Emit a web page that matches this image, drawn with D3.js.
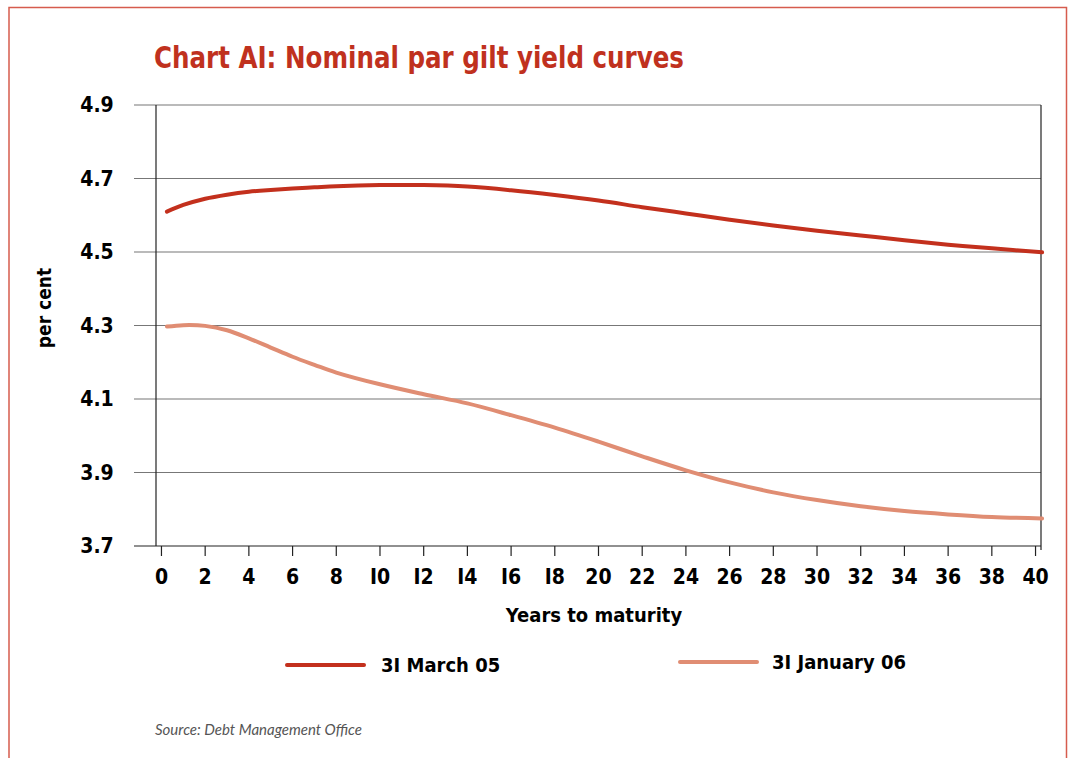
<!DOCTYPE html>
<html>
<head>
<meta charset="utf-8">
<script src="https://cdn.jsdelivr.net/npm/d3@7"></script>
<style>
  body { margin: 0; background: #fff; }
  svg { display: block; }
</style>
</head>
<body>
<div id="chart"></div>
<script>
// years to maturity
const years = [0.25, 1, 2, 3, 4, 5, 6, 7, 8, 10, 12, 14, 16, 18, 20, 22, 24, 26, 28, 30, 32, 34, 36, 38, 40.3]
// 31 March 05
const march05 = [4.61, 4.628, 4.645, 4.656, 4.664, 4.669, 4.673, 4.676, 4.679, 4.682, 4.682, 4.678, 4.668, 4.655, 4.640, 4.622, 4.605, 4.588, 4.572, 4.558, 4.545, 4.532, 4.520, 4.510, 4.499]
// 31 January 06
const jan06 = [4.297, 4.301, 4.299, 4.287, 4.265, 4.240, 4.215, 4.193, 4.172, 4.140, 4.113, 4.088, 4.056, 4.022, 3.984, 3.944, 3.906, 3.873, 3.846, 3.825, 3.808, 3.795, 3.786, 3.779, 3.775]

const yTicks = [3.7, 3.9, 4.1, 4.3, 4.5, 4.7, 4.9]
const xTicks = d3.range(0, 41, 2)
const seriesNames = ['3I March 05', '3I January 06']

const width = 1069
const height = 758
const font = '"DejaVu Sans Condensed", sans-serif'
const marchColor = '#c3301d'
const janColor = '#e08d73'

const svg = d3.select('#chart').append('svg')
  .attr('width', width)
  .attr('height', height)

// 外框
svg.append('path')
  .attr('d', `M9,${height} V7.5 H1066.5 V${height}`)
  .attr('fill', 'none')
  .attr('stroke', '#d65c4e')
  .attr('stroke-width', 1.5)

svg.append('text')
  .attr('x', 154)
  .attr('y', 68)
  .attr('fill', '#c0311e')
  .attr('textLength', 530)
  .attr('lengthAdjust', 'spacingAndGlyphs')
  .style('font', `bold 31px ${font}`)
  .text('Chart AI: Nominal par gilt yield curves')

const x = d3.scaleLinear().domain([-0.25, 40.25]).range([156, 1041])
const y = d3.scaleLinear().domain([3.7, 4.9]).range([546, 105])

// 网格线
svg.append('g')
  .selectAll('line')
  .data(yTicks)
  .join('line')
  .attr('x1', 134)
  .attr('x2', 1041)
  .attr('y1', (d) => y(d))
  .attr('y2', (d) => y(d))
  .attr('stroke', (d) => d === 3.7 ? '#222' : '#777')
  .attr('stroke-width', 1.2)

// 坐标轴边线
svg.append('line')
  .attr('x1', 156).attr('x2', 156)
  .attr('y1', 105).attr('y2', 546)
  .attr('stroke', '#222').attr('stroke-width', 1.2)
svg.append('line')
  .attr('x1', 1041).attr('x2', 1041)
  .attr('y1', 105).attr('y2', 550)
  .attr('stroke', '#222').attr('stroke-width', 1.2)

// y 轴标签
svg.append('g')
  .selectAll('text')
  .data(yTicks)
  .join('text')
  .attr('x', 97)
  .attr('y', (d) => y(d))
  .attr('dy', '0.35em')
  .attr('text-anchor', 'middle')
  .style('font', `bold 21px ${font}`)
  .text((d) => d3.format('.1f')(d))

// x 轴刻度
const xAxis = svg.append('g')
  .attr('transform', `translate(0,546)`)
xAxis.selectAll('line')
  .data(xTicks)
  .join('line')
  .attr('x1', (d) => x(d))
  .attr('x2', (d) => x(d))
  .attr('y1', 0)
  .attr('y2', 10)
  .attr('stroke', '#222')
  .attr('stroke-width', 1.2)
xAxis.selectAll('text')
  .data(xTicks)
  .join('text')
  .attr('x', (d) => x(d))
  .attr('y', 31)
  .attr('dy', '0.35em')
  .attr('text-anchor', 'middle')
  .style('font', `bold 21px ${font}`)
  .text((d) => String(d).replace(/1/g, 'I'))

svg.append('text')
  .attr('x', 594)
  .attr('y', 615)
  .attr('dy', '0.35em')
  .attr('text-anchor', 'middle')
  .style('font', `bold 20px ${font}`)
  .text('Years to maturity')

svg.append('text')
  .attr('transform', 'translate(44,308) rotate(-90)')
  .attr('dy', '0.35em')
  .attr('text-anchor', 'middle')
  .style('font', `bold 19px ${font}`)
  .text('per cent')

// 曲线
const line = d3.line()
  .x((d) => x(d[0]))
  .y((d) => y(d[1]))
  .curve(d3.curveCatmullRom.alpha(0.5))

const series = [
  { name: seriesNames[0], values: march05, color: marchColor },
  { name: seriesNames[1], values: jan06, color: janColor }
]

svg.append('g')
  .selectAll('path')
  .data(series)
  .join('path')
  .attr('d', (s) => line(years.map((yr, i) => [yr, s.values[i]])))
  .attr('fill', 'none')
  .attr('stroke', (s) => s.color)
  .attr('stroke-width', 4)
  .attr('stroke-linecap', 'round')

// 图例
const legendPos = [{ x1: 287, x2: 364, tx: 381, y: 665 }, { x1: 680, x2: 757, tx: 772, y: 662 }]
const legend = svg.append('g')
  .selectAll('g')
  .data(series)
  .join('g')
legend.append('line')
  .attr('x1', (d, i) => legendPos[i].x1)
  .attr('x2', (d, i) => legendPos[i].x2)
  .attr('y1', (d, i) => legendPos[i].y)
  .attr('y2', (d, i) => legendPos[i].y)
  .attr('stroke', (d) => d.color)
  .attr('stroke-width', 4)
  .attr('stroke-linecap', 'round')
legend.append('text')
  .attr('x', (d, i) => legendPos[i].tx)
  .attr('y', (d, i) => legendPos[i].y)
  .attr('dy', '0.35em')
  .style('font', `bold 20px ${font}`)
  .text((d) => d.name)

svg.append('text')
  .attr('x', 155)
  .attr('y', 735)
  .attr('fill', '#555')
  .style('font', `italic 15px "Lato", "Open Sans", sans-serif`)
  .text('Source: Debt Management Office')
</script>
</body>
</html>
